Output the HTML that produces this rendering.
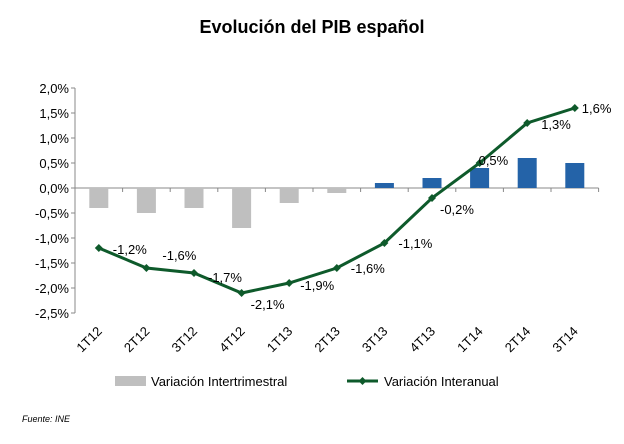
<!DOCTYPE html>
<html><head><meta charset="utf-8"><style>
body{margin:0;background:#fff;width:624px;height:439px;overflow:hidden;font-family:"Liberation Sans",sans-serif}
</style></head><body>
<svg id="chart" width="624" height="439" xmlns="http://www.w3.org/2000/svg" font-family="Liberation Sans, sans-serif">
<text x="312" y="33" text-anchor="middle" font-size="18" font-weight="bold">Evolución del PIB español</text>
<g id="plot"></g>
<g>
<rect x="115" y="376" width="31" height="10" fill="#bfbfbf"/>
<text x="151" y="386" font-size="13">Variación Intertrimestral</text>
<line x1="347" y1="381" x2="378" y2="381" stroke="#0e5a2b" stroke-width="3"/>
<path d="M362.5 377 L366.5 381 L362.5 385 L358.5 381Z" fill="#0e5a2b"/>
<text x="384" y="386" font-size="13">Variación Interanual</text>
</g>
<text x="22" y="422" font-size="9" font-style="italic">Fuente:  INE</text>
</svg>
<script>
const categories=["1T12","2T12","3T12","4T12","1T13","2T13","3T13","4T13","1T14","2T14","3T14"];
const barValues=[-0.4,-0.5,-0.4,-0.8,-0.3,-0.1,0.1,0.2,0.4,0.6,0.5];
const lineValues=[-1.2,-1.6,-1.7,-2.1,-1.9,-1.6,-1.1,-0.2,0.5,1.3,1.6];
const lineLabels=["-1,2%","-1,6%","-1,7%","-2,1%","-1,9%","-1,6%","-1,1%","-0,2%","0,5%","1,3%","1,6%"];
const yTicks=[2,1.5,1,0.5,0,-0.5,-1,-1.5,-2,-2.5];
const yTickLabels=["2,0%","1,5%","1,0%","0,5%","0,0%","-0,5%","-1,0%","-1,5%","-2,0%","-2,5%"];
const labelOffsets=[[14,6],[16,-8],[14,9],[9,16],[11,7],[14,5],[14,5],[8,16],[-1,2],[14,6],[7,5]];
const NS="http://www.w3.org/2000/svg";
const g=document.getElementById('plot');
const x0=75,step=47.6,yZero=188,perUnit=50;
const xC=i=>x0+step*(i+0.5);
const yS=v=>yZero-v*perUnit;
function mk(t,a){const e=document.createElementNS(NS,t);for(const k in a)e.setAttribute(k,a[k]);g.appendChild(e);return e;}
let ax=mk('line',{x1:x0,y1:yS(2),x2:x0,y2:yS(-2.5),stroke:'#888'});


yTicks.forEach((v,i)=>{
 let t=mk('line',{x1:x0-4,y1:yS(v),x2:x0,y2:yS(v),stroke:'#888'});
 
 
 let l=mk('text',{x:x0-6,y:yS(v)+5,'text-anchor':'end','font-size':13});
 l.textContent=yTickLabels[i];
 
 
});
let xa=mk('line',{x1:x0,y1:yZero,x2:x0+step*categories.length,y2:yZero,stroke:'#888'});


categories.forEach((c,i)=>{
 let tk=mk('line',{x1:x0+step*(i+1),y1:yZero,x2:x0+step*(i+1),y2:yZero+4,stroke:'#888'});
 
 
 const v=barValues[i];
 let b=mk('rect',{x:xC(i)-9.5,y:Math.min(yS(v),yZero),width:19,height:Math.abs(yS(v)-yZero),fill:v<0?'#bfbfbf':'#2463a8'});
 
 
 const lx=xC(i)+4,ly=332;
 let t=mk('text',{x:lx,y:ly,'text-anchor':'end','font-size':13,transform:`rotate(-45 ${lx} ${ly})`});
 t.textContent=c;
 
 
});
let pl=mk('polyline',{points:lineValues.map((v,i)=>xC(i)+','+yS(v)).join(' '),fill:'none',stroke:'#0e5a2b','stroke-width':3});


lineValues.forEach((v,i)=>{
 const x=xC(i),y=yS(v);
 let m=mk('path',{d:`M${x} ${y-4}L${x+4} ${y}L${x} ${y+4}L${x-4} ${y}Z`,fill:'#0e5a2b'});
 
 
 let t=mk('text',{x:x+labelOffsets[i][0],y:y+labelOffsets[i][1],'font-size':13});
 t.textContent=lineLabels[i];
 
 
});
</script>
</body></html>
